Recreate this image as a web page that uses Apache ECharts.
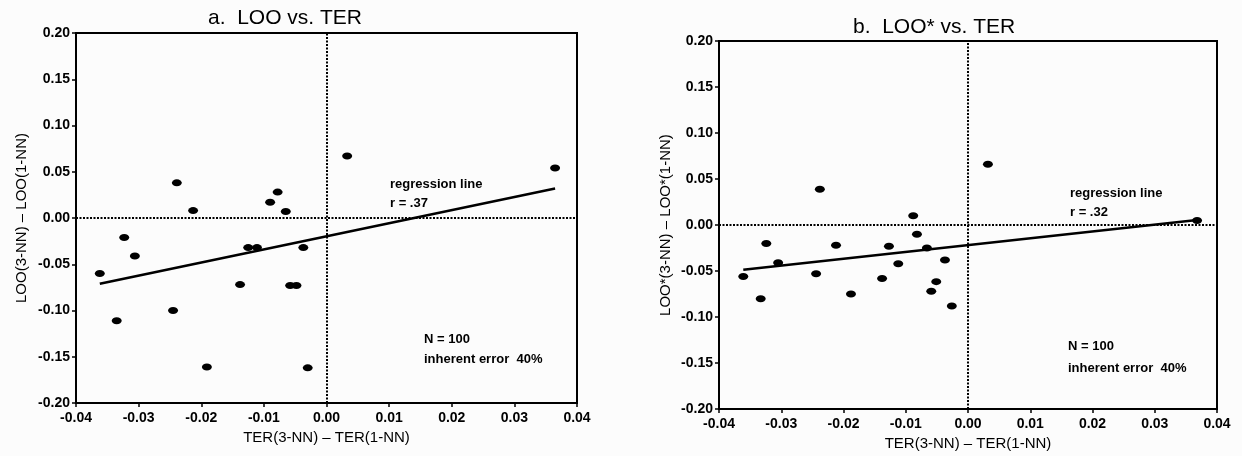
<!DOCTYPE html>
<html>
<head>
<meta charset="utf-8">
<script src="https://cdn.jsdelivr.net/npm/echarts@6/dist/echarts.min.js"></script>
<style>
  html, body { margin: 0; background: #fcfcfc; }
  #chart { width: 1242px; height: 456px; }
</style>
</head>
<body>
<div id="chart"></div>
<script>
// panel a: LOO vs. TER  [TER(3-NN) - TER(1-NN), LOO(3-NN) - LOO(1-NN)]
const pointsA = [
  [-0.0362, -0.060], [-0.0335, -0.111], [-0.0323, -0.021], [-0.0306, -0.041],
  [-0.0245, -0.100], [-0.0239, 0.038], [-0.0213, 0.008], [-0.0191, -0.161],
  [-0.0138, -0.072], [-0.0125, -0.032], [-0.0111, -0.032], [-0.0090, 0.017],
  [-0.0078, 0.028], [-0.0065, 0.007], [-0.0058, -0.073], [-0.0048, -0.073],
  [-0.0037, -0.032], [-0.0030, -0.162], [0.0033, 0.067], [0.0365, 0.054],
];
const regressionA = [[-0.0362, -0.071], [0.0365, 0.032]];

// panel b: LOO* vs. TER
const pointsB = [
  [-0.0361, -0.056], [-0.0333, -0.080], [-0.0324, -0.020], [-0.0305, -0.041],
  [-0.0244, -0.053], [-0.0238, 0.039], [-0.0212, -0.022], [-0.0188, -0.075],
  [-0.0138, -0.058], [-0.0127, -0.023], [-0.0112, -0.042], [-0.0088, 0.010],
  [-0.0082, -0.010], [-0.0066, -0.025], [-0.0059, -0.072], [-0.0051, -0.0615],
  [-0.0037, -0.038], [-0.0026, -0.088], [0.0032, 0.066], [0.0368, 0.005],
];
const regressionB = [[-0.0361, -0.0485], [0.0368, 0.0054]];

const titles = ["a.  LOO vs. TER", "b.  LOO* vs. TER"];
const xNames = ["TER(3-NN) \u2013 TER(1-NN)", "TER(3-NN) \u2013 TER(1-NN)"];
const yNames = ["LOO(3-NN) \u2013 LOO(1-NN)", "LOO*(3-NN) \u2013 LOO*(1-NN)"];
const rLabels = ["regression line\nr = .37", "regression line\nr = .32"];
const noteLabel = "N = 100\ninherent error  40%";

const ink = "#000";
const font = "Liberation Sans, Arial, sans-serif";
const grids = [
  { left: 76, top: 33, width: 501, height: 370 },
  { left: 719, top: 41, width: 498, height: 371 },
];

const chart = echarts.init(document.getElementById("chart"), null, { renderer: "canvas" });

function gridOption(g) {
  return { ...g, show: true, borderColor: ink, borderWidth: 2, backgroundColor: "transparent" };
}

function xAxis(i, gap) {
  return {
    type: "value",
    gridIndex: i,
    min: -0.04,
    max: 0.04,
    interval: 0.01,
    name: xNames[i],
    nameLocation: "middle",
    nameGap: gap,
    nameTextStyle: { color: ink, fontSize: 15, fontFamily: font },
    axisLine: { onZero: false, lineStyle: { color: ink, width: 2 } },
    axisTick: { inside: false, length: 4, lineStyle: { color: ink, width: 1.5 } },
    axisLabel: { color: ink, fontSize: 14, fontFamily: font, fontWeight: "bold", margin: 8,
      formatter: (v) => v.toFixed(2) },
    splitLine: { show: false },
  };
}

function yAxis(i, gap) {
  return {
    type: "value",
    gridIndex: i,
    min: -0.2,
    max: 0.2,
    interval: 0.05,
    name: yNames[i],
    nameLocation: "middle",
    nameGap: gap,
    nameTextStyle: { color: ink, fontSize: 15, fontFamily: font },
    axisLine: { onZero: false, lineStyle: { color: ink, width: 2 } },
    axisTick: { inside: false, length: 4, lineStyle: { color: ink, width: 1.5 } },
    axisLabel: { color: ink, fontSize: 14, fontFamily: font, fontWeight: "bold", margin: 6,
      formatter: (v) => v.toFixed(2) },
    splitLine: { show: false },
  };
}

function scatter(i, data) {
  return {
    type: "scatter",
    xAxisIndex: i,
    yAxisIndex: i,
    data,
    symbol: "circle",
    symbolSize: [10, 7],
    itemStyle: { color: ink, opacity: 1 },
    z: 4,
    markLine: {
      silent: true,
      symbol: "none",
      label: { show: false },
      lineStyle: { color: ink, type: [2, 1.5], width: 2, opacity: 1 },
      data: [{ xAxis: 0 }, { yAxis: 0 }],
    },
  };
}

function regression(i, data) {
  return {
    type: "line",
    xAxisIndex: i,
    yAxisIndex: i,
    data,
    showSymbol: false,
    lineStyle: { color: ink, width: 2.6 },
    z: 3,
  };
}

function text(left, top, content, size, weight, lineHeight) {
  return {
    type: "text",
    left,
    top,
    style: { text: content, fill: ink, font: `${weight} ${size}px ${font}`, lineHeight },
  };
}

chart.setOption({
  animation: false,
  backgroundColor: "#fcfcfc",
  textStyle: { fontFamily: font },
  grid: grids.map(gridOption),
  xAxis: [xAxis(0, 20), xAxis(1, 18)],
  yAxis: [yAxis(0, 47), yAxis(1, 46)],
  series: [
    scatter(0, pointsA),
    regression(0, regressionA),
    scatter(1, pointsB),
    regression(1, regressionB),
  ],
  graphic: [
    text(208, 6, titles[0], 21, "normal", 24),
    text(853, 15, titles[1], 21, "normal", 24),
    text(390, 175, rLabels[0], 13, "bold", 19),
    text(1070, 184, rLabels[1], 13, "bold", 19),
    text(424, 329, noteLabel, 13, "bold", 20),
    text(1068, 335, noteLabel, 13, "bold", 22),
  ],
});
</script>
</body>
</html>
